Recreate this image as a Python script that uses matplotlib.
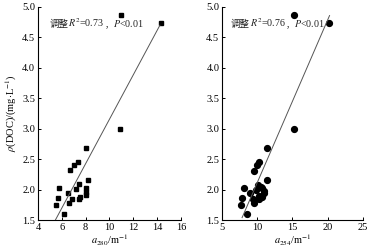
import numpy as np
import matplotlib
matplotlib.use('Agg')
import matplotlib.pyplot as plt

plt.rcParams['font.family'] = ['Liberation Serif', 'Noto Sans CJK SC']
plt.rcParams['mathtext.fontset'] = 'stix'
plt.rcParams['font.size'] = 7.5

# data: a280 vs DOC
a280 = [10.95, 14.35, 10.87, 8.01, 6.66, 7.0, 7.39, 8.2, 7.48, 8.0, 8.0, 8.0,
        7.22, 5.77, 6.5, 5.71, 6.89, 7.45, 7.5, 6.64, 5.49, 6.19]
doc1 = [4.86, 4.74, 3.0, 2.69, 2.32, 2.41, 2.46, 2.16, 2.09, 2.03, 1.96, 1.91,
        2.01, 2.02, 1.94, 1.86, 1.84, 1.84, 1.88, 1.78, 1.75, 1.60]
# a254 vs DOC
a254 = [15.26, 20.2, 15.26, 11.34, 9.54, 9.9, 10.2, 11.38, 10.1, 10.6, 9.87, 8.12,
        8.97, 10.9, 7.84, 9.4, 10.2, 10.7, 9.54, 7.74, 8.5, 10.5, 10.9, 10.3]
doc2 = [4.86, 4.74, 3.0, 2.69, 2.31, 2.40, 2.45, 2.16, 2.07, 2.02, 2.0, 2.02,
        1.94, 1.95, 1.86, 1.84, 1.84, 1.88, 1.78, 1.75, 1.60, 2.04, 1.98, 1.90]

# fitted lines (slope, intercept, x range)
fit1 = (0.365, -0.493, 5.46, 14.23)
fit2 = (0.267, -0.553, 7.84, 20.27)

fig = plt.figure(figsize=(3.91, 2.49), dpi=100)
ax1 = fig.add_axes([0.097, 0.116, 0.366, 0.856])
ax2 = fig.add_axes([0.568, 0.116, 0.360, 0.856])

def style(ax):
    for s in ['top', 'right']:
        ax.spines[s].set_visible(False)
    for s in ['left', 'bottom']:
        ax.spines[s].set_linewidth(0.8)
    ax.tick_params(direction='in', length=2.5, width=0.7, labelsize=7.5, pad=2)
    ax.set_ylim(1.5, 5.0)
    ax.set_yticks(np.arange(1.5, 5.01, 0.5))
    ax.set_yticklabels([f'{v:.1f}' for v in np.arange(1.5, 5.01, 0.5)])

def fitline(ax, fit):
    k, b, x0, x1 = fit
    xs = np.array([x0, x1])
    ax.plot(xs, k * xs + b, color='#555555', lw=0.7)

def stat_text(ax, x, y, r2):
    # mathtext can't do CJK, so chain the pieces
    cjk = ['Noto Sans CJK SC']
    t = ax.text(x, y, '调整', transform=ax.transAxes, family=cjk,
                fontsize=6.8, ha='left', va='baseline', color='#222222')
    t = ax.annotate(f'$R^2$={r2}', xy=(1, 0), xycoords=t, va='bottom',
                    ha='left', fontsize=7.2, color='#222222')
    t = ax.annotate('，', xy=(1, 0), xycoords=t, va='bottom', ha='left',
                    family=cjk, fontsize=6.2, color='#222222')
    ax.annotate('$P$<0.01', xy=(1, 0), xycoords=t, va='bottom', ha='left',
                fontsize=7.2, color='#222222')

# left panel
ax1.plot(a280, doc1, 's', color='black', ms=3.5)
fitline(ax1, fit1)
style(ax1)
ax1.set_xlim(4, 16)
ax1.set_xticks([4, 6, 8, 10, 12, 14, 16])
ax1.set_xlabel('$a_{280}$/m$^{-1}$', labelpad=1)
ax1.set_ylabel(r'$\rho$(DOC)/(mg$\cdot$L$^{-1}$)', labelpad=2)
stat_text(ax1, 0.08, 0.905, '0.73')

# right panel
ax2.plot(a254, doc2, 'o', color='black', ms=4.2)
fitline(ax2, fit2)
style(ax2)
ax2.set_xlim(5, 25)
ax2.set_xticks([5, 10, 15, 20, 25])
ax2.set_xlabel('$a_{254}$/m$^{-1}$', labelpad=1)
stat_text(ax2, 0.06, 0.905, '0.76')

fig.savefig('out.png', dpi=100)
